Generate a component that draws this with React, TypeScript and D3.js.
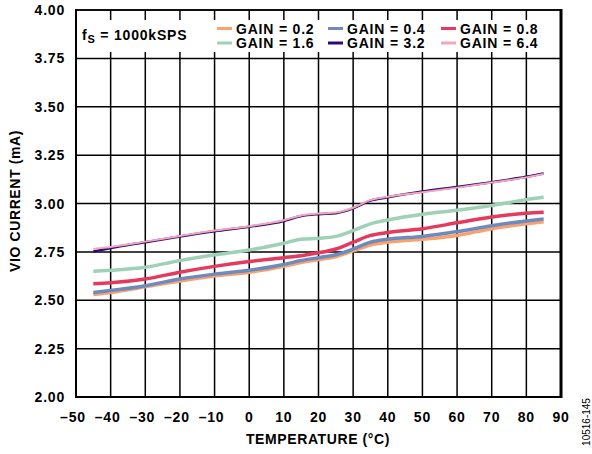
import React from "react";
import * as d3 from "d3";

const temps = [-45, -40, -30, -20, -10, 0, 10, 15, 20, 25, 30, 35, 40, 50, 60, 70, 80, 85];
const gain02 = [2.53, 2.54, 2.57, 2.6, 2.625, 2.645, 2.675, 2.695, 2.71, 2.725, 2.755, 2.785, 2.8, 2.815, 2.835, 2.87, 2.895, 2.905];
const gain04 = [2.54, 2.55, 2.575, 2.61, 2.635, 2.655, 2.685, 2.705, 2.72, 2.735, 2.765, 2.8, 2.815, 2.83, 2.855, 2.885, 2.91, 2.92];
const gain08 = [2.585, 2.59, 2.61, 2.645, 2.675, 2.7, 2.72, 2.73, 2.745, 2.765, 2.8, 2.835, 2.85, 2.87, 2.9, 2.93, 2.95, 2.955];
const gain16 = [2.65, 2.655, 2.67, 2.705, 2.735, 2.76, 2.795, 2.815, 2.82, 2.83, 2.86, 2.895, 2.915, 2.945, 2.965, 2.99, 3.02, 3.032];
const gain32 = [2.752, 2.77, 2.8, 2.83, 2.857, 2.88, 2.91, 2.935, 2.945, 2.95, 2.975, 3.015, 3.032, 3.062, 3.085, 3.11, 3.138, 3.155];
const gain64 = [2.765, 2.775, 2.803, 2.832, 2.86, 2.883, 2.913, 2.938, 2.948, 2.953, 2.978, 3.018, 3.035, 3.058, 3.082, 3.108, 3.135, 3.152];

const xTicks = [-50, -40, -30, -20, -10, 0, 10, 20, 30, 40, 50, 60, 70, 80, 90];
const yTicks = [2.0, 2.25, 2.5, 2.75, 3.0, 3.25, 3.5, 3.75, 4.0];

const series = [
  { name: "GAIN = 0.2", values: gain02, color: "#F9A26E", width: 3.5 },
  { name: "GAIN = 0.4", values: gain04, color: "#6F8BBE", width: 3.5 },
  { name: "GAIN = 0.8", values: gain08, color: "#E5395D", width: 3.5 },
  { name: "GAIN = 1.6", values: gain16, color: "#9ED1B6", width: 3.5 },
  { name: "GAIN = 3.2", values: gain32, color: "#2B0A78", width: 2.5 },
  { name: "GAIN = 6.4", values: gain64, color: "#F3A8BA", width: 2 },
];
const drawOrder = [0, 1, 3, 2, 4, 5];

const legendLayout = [
  { i: 0, col: 0, row: 0 },
  { i: 1, col: 1, row: 0 },
  { i: 2, col: 2, row: 0 },
  { i: 3, col: 0, row: 1 },
  { i: 4, col: 1, row: 1 },
  { i: 5, col: 2, row: 1 },
];

export default function App() {
  const W = 592, H = 454;
  const L = 76, R = 561, T = 10, B = 397;
  const x = d3.scaleLinear().domain([-50, 90]).range([L, R]);
  const y = d3.scaleLinear().domain([2, 4]).range([B, T]);
  const font = "Arial, 'Liberation Sans', Helvetica, sans-serif";
  const line = (vals: number[]) =>
    d3.line<number>()
      .x((_, i) => x(temps[i]))
      .y((d) => y(d))
      .curve(d3.curveMonotoneX)(vals) || "";
  const colX = [217, 328, 441];
  const rowY = [28.5, 43];
  const ls = 0.8;
  return (
    <svg width={W} height={H} style={{ position: "absolute", left: 0, top: 0, background: "#fff" }}
      fontFamily={font}>
      <rect x={0} y={0} width={W} height={H} fill="#fff" />
      {xTicks.map((t) => (
        <line key={"gx" + t} x1={x(t)} x2={x(t)} y1={T} y2={B} stroke="#000" strokeWidth={1.5} />
      ))}
      {yTicks.map((t) => (
        <line key={"gy" + t} x1={L} x2={R} y1={y(t)} y2={y(t)} stroke="#000" strokeWidth={1.5} />
      ))}
      <rect x={L + 1.5} y={20} width={R - L - 6} height={32} fill="#fff" />
      <line x1={L} x2={L} y1={T - 1} y2={B + 1} stroke="#000" strokeWidth={2} />
      <line x1={L} x2={R} y1={B} y2={B} stroke="#000" strokeWidth={2} />
      <line x1={R} x2={R} y1={T - 1} y2={B + 1} stroke="#000" strokeWidth={3} />
      <line x1={L} x2={R} y1={T} y2={T} stroke="#000" strokeWidth={1.5} />
      {drawOrder.map((k) => {
        const s = series[k];
        return <path key={s.name} d={line(s.values)} fill="none" stroke={s.color} strokeWidth={s.width} strokeLinejoin="round" />;
      })}
      {yTicks.map((t) => (
        <text key={"ty" + t} x={65} y={y(t) + 5} textAnchor="end" fontSize={14} fontWeight="bold" letterSpacing={ls}>
          {t.toFixed(2)}
        </text>
      ))}
      {xTicks.map((t) => (
        <text key={"tx" + t} x={x(t) - (t < 0 ? 3 : 0)} y={422} textAnchor="middle" fontSize={14} fontWeight="bold" letterSpacing={ls}>
          {t < 0 ? "\u2013" + Math.abs(t) : String(t)}
        </text>
      ))}
      <text x={318} y={444} textAnchor="middle" fontSize={14} fontWeight="bold" letterSpacing={0.6}>TEMPERATURE (°C)</text>
      <text transform={`translate(20,${201}) rotate(-90)`} textAnchor="middle" fontSize={14} fontWeight="bold" letterSpacing={0.6}>
        VIO CURRENT (mA)
      </text>
      <text x={82} y={40} fontSize={14} fontWeight="bold" letterSpacing={ls}>
        f<tspan fontSize={11} dy={3}>S</tspan><tspan dy={-3}> = 1000kSPS</tspan>
      </text>
      {legendLayout.map(({ i, col, row }) => {
        const s = series[i];
        return (
          <g key={"lg" + i}>
            <line x1={colX[col]} x2={colX[col] + 15} y1={rowY[row]} y2={rowY[row]} stroke={s.color} strokeWidth={3} />
            <text x={colX[col] + 19} y={rowY[row] + 5} fontSize={14} fontWeight="bold" letterSpacing={ls}>{s.name}</text>
          </g>
        );
      })}
      <text transform="translate(590,422) rotate(-90)" textAnchor="middle" fontSize={10}>10516-145</text>
    </svg>
  );
}
